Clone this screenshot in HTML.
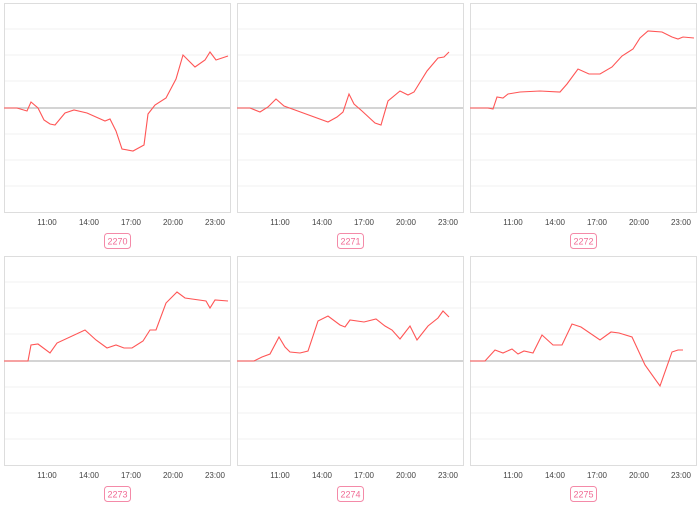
<!DOCTYPE html><html><head><style>body{margin:0;background:#fff}svg text{font-family:"Liberation Sans",sans-serif}</style></head><body>
<svg width="700" height="506" xmlns="http://www.w3.org/2000/svg">
<defs>
<g id="grid">
<rect x="0.5" y="0.5" width="226" height="209" fill="#fff" stroke="#ddd"/>
<g stroke="#f2f2f2"><line x1="1" x2="226" y1="26" y2="26"/><line x1="1" x2="226" y1="52" y2="52"/><line x1="1" x2="226" y1="78" y2="78"/><line x1="1" x2="226" y1="131" y2="131"/><line x1="1" x2="226" y1="157" y2="157"/><line x1="1" x2="226" y1="183" y2="183"/></g>
<line x1="1" x2="226" y1="105" y2="105" stroke="#bbb" stroke-width="1.2"/>
<g font-size="8" fill="#444" text-anchor="middle"><text x="43" y="222">11:00</text><text x="85" y="222">14:00</text><text x="127" y="222">17:00</text><text x="169" y="222">20:00</text><text x="211" y="222">23:00</text></g>
</g></defs>
<use href="#grid" x="4" y="3"/><use href="#grid" x="237" y="3"/><use href="#grid" x="470" y="3"/>
<use href="#grid" x="4" y="256"/><use href="#grid" x="237" y="256"/><use href="#grid" x="470" y="256"/>
<g fill="#fff" stroke="#f48aa8" stroke-width="1">
<rect x="104.5" y="233.5" width="26" height="15" rx="3"/><rect x="337.5" y="233.5" width="26" height="15" rx="3"/><rect x="570.5" y="233.5" width="26" height="15" rx="3"/>
<rect x="104.5" y="486.5" width="26" height="15" rx="3"/><rect x="337.5" y="486.5" width="26" height="15" rx="3"/><rect x="570.5" y="486.5" width="26" height="15" rx="3"/>
</g>
<g font-size="9" fill="#f06a94" text-anchor="middle">
<text x="117.5" y="244.5">2270</text><text x="350.5" y="244.5">2271</text><text x="583.5" y="244.5">2272</text>
<text x="117.5" y="497.5">2273</text><text x="350.5" y="497.5">2274</text><text x="583.5" y="497.5">2275</text>
</g>
<g fill="none" stroke="#f55" stroke-width="1.1">
<polyline points="4,108 17,108 27,111 31,102 38,108 44,120 50,124 55,125 65,113 74,110 87,113 105,121 110,119 116,131 122,149 133,151 144,145 148,114 155,105 166,98 176,79 183,55 195,67 205,60 210,52 216,60 228,56"/>
<polyline points="237,108 250,108 260,112 268,107 276,99 284,106 295,110 328,122 337,117 343,112 349,94 354,104 362,111 375,123 381,125 388,101 400,91 408,95 414,92 427,71 438,58 444,57 449,52"/>
<polyline points="470,108 488,108 493,109 497,97 503,98 508,94 520,92 540,91 560,92 567,84 578,69 589,74 600,74 612,67 622,56 633,49 640,38 648,31 662,32 672,37 678,39 683,37 694,38"/>
<polyline points="4,361 28,361 31,345 38,344 50,353 57,343 85,330 96,340 107,348 116,345 124,348 132,348 143,341 150,330 156,330 166,303 177,292 185,298 206,301 210,308 215,300 228,301"/>
<polyline points="237,361 254,361 262,357 270,354 279,337 285,347 290,352 300,353 308,351 318,321 328,316 340,325 345,327 350,320 364,322 376,319 385,326 392,330 400,339 410,326 417,340 428,326 438,318 443,311 449,317"/>
<polyline points="470,361 485,361 495,350 503,353 512,349 518,354 524,351 533,353 542,335 553,345 562,345 572,324 581,327 600,340 611,332 619,333 632,337 645,365 660,386 672,352 678,350 683,350"/>
</g>
</svg></body></html>
